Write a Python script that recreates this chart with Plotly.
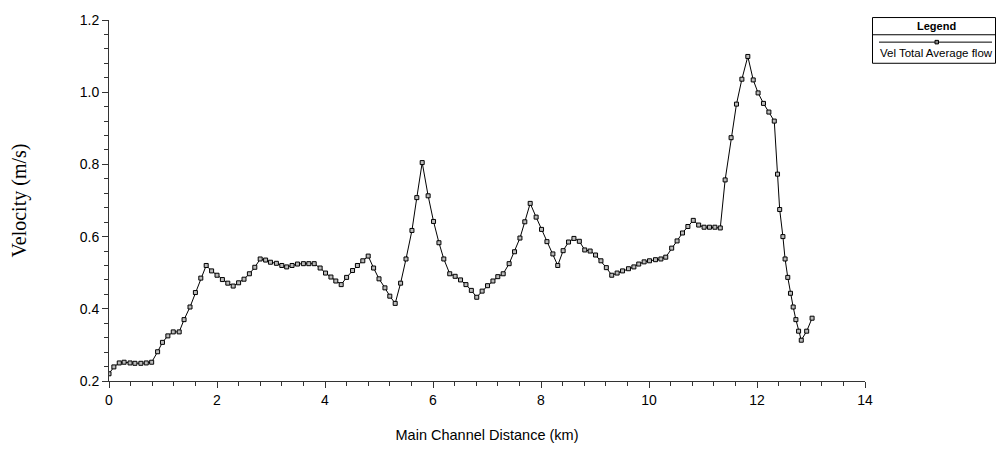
import plotly.graph_objects as go

distance_km = [0.00, 0.09, 0.19, 0.28, 0.39, 0.48, 0.59, 0.69, 0.79, 0.90, 0.99, 1.09, 1.19, 1.30,
               1.39, 1.50, 1.60, 1.70, 1.80, 1.90, 2.00, 2.10, 2.20, 2.30, 2.40, 2.50, 2.60, 2.70,
               2.80, 2.90, 2.99, 3.10, 3.20, 3.29, 3.39, 3.49, 3.60, 3.70, 3.80, 3.91, 4.01, 4.11,
               4.20, 4.30, 4.40, 4.51, 4.60, 4.70, 4.80, 4.90, 5.00, 5.11, 5.20, 5.30, 5.40, 5.50,
               5.61, 5.70, 5.80, 5.91, 6.01, 6.11, 6.20, 6.31, 6.41, 6.51, 6.61, 6.71, 6.81, 6.91,
               7.01, 7.11, 7.20, 7.30, 7.41, 7.51, 7.61, 7.70, 7.80, 7.91, 8.01, 8.11, 8.22, 8.31,
               8.41, 8.51, 8.61, 8.71, 8.81, 8.91, 9.01, 9.11, 9.21, 9.31, 9.41, 9.51, 9.62, 9.72,
               9.81, 9.91, 10.01, 10.12, 10.22, 10.31, 10.42, 10.52, 10.62, 10.72, 10.82, 10.92,
               11.02, 11.12, 11.22, 11.32, 11.41, 11.52, 11.62, 11.72, 11.83, 11.93, 12.02, 12.12,
               12.22, 12.32, 12.38, 12.42, 12.48, 12.52, 12.57, 12.62, 12.67, 12.72, 12.77, 12.82,
               12.92, 13.02]

velocity = [0.220, 0.239, 0.250, 0.252, 0.250, 0.249, 0.249, 0.250, 0.252, 0.281, 0.307, 0.325, 0.336, 0.336,
            0.370, 0.405, 0.445, 0.485, 0.520, 0.505, 0.493, 0.481, 0.471, 0.463, 0.472, 0.482, 0.497, 0.515,
            0.538, 0.535, 0.529, 0.526, 0.520, 0.516, 0.520, 0.524, 0.525, 0.525, 0.525, 0.513, 0.499, 0.488,
            0.477, 0.467, 0.487, 0.506, 0.520, 0.533, 0.546, 0.513, 0.483, 0.458, 0.435, 0.415, 0.471, 0.538,
            0.617, 0.708, 0.805, 0.713, 0.642, 0.583, 0.538, 0.497, 0.490, 0.480, 0.467, 0.451, 0.432, 0.449,
            0.464, 0.477, 0.489, 0.497, 0.525, 0.558, 0.596, 0.641, 0.692, 0.654, 0.620, 0.586, 0.552, 0.520,
            0.561, 0.585, 0.595, 0.587, 0.563, 0.560, 0.549, 0.533, 0.514, 0.493, 0.499, 0.505, 0.511, 0.516,
            0.524, 0.530, 0.533, 0.536, 0.538, 0.543, 0.568, 0.588, 0.610, 0.628, 0.645, 0.632,
            0.626, 0.626, 0.626, 0.624, 0.757, 0.874, 0.967, 1.036, 1.099, 1.034, 0.998, 0.969,
            0.945, 0.920, 0.773, 0.675, 0.600, 0.538, 0.487, 0.443, 0.405, 0.370, 0.338, 0.313,
            0.338, 0.374]

series_name = "Vel Total Average flow"
legend_title = "Legend"
x_title = "Main Channel Distance (km)"
y_title = "Velocity (m/s)"

W, H = 996, 453
L, R, T, B = 109, 131, 16.5, 69.5
PW, PH = W - L - R, H - T - B


def px(x):
    return (x - L) / PW


def py(y):
    return (H - B - y) / PH


fig = go.Figure()
fig.add_trace(go.Scatter(
    x=distance_km, y=velocity, mode="lines+markers", name=series_name,
    line=dict(color="black", width=1),
    marker=dict(symbol="square", size=4, color="#bbbbbb", line=dict(width=1, color="black")),
    showlegend=False,
))

axis_font = dict(family="Liberation Sans, Arial", size=14, color="black")

fig.update_xaxes(
    range=[0, 14], dtick=2, tick0=0, ticks="outside", ticklen=6, tickcolor="#333",
    showline=True, linecolor="#333", linewidth=1, showgrid=False, zeroline=False,
    tickfont=axis_font,
    minor=dict(dtick=0.4, ticks="outside", ticklen=4, tickcolor="#333", showgrid=False),
    title=dict(text=x_title, font=dict(family="Liberation Sans, Arial", size=14.5, color="black"), standoff=23),
)
fig.update_yaxes(
    range=[0.2, 1.2], dtick=0.2, tick0=0.2, tickformat=".1f", ticks="outside", ticklen=6, tickcolor="#333",
    showline=True, linecolor="#333", linewidth=1, showgrid=False, zeroline=False,
    tickfont=axis_font,
    minor=dict(dtick=0.04, ticks="outside", ticklen=4, tickcolor="#333", showgrid=False),
    title=dict(text=y_title, font=dict(family="Liberation Serif, Times New Roman", size=20, color="black"), standoff=47),
)

# Legend box drawn manually
shapes = [
    dict(type="rect", xref="paper", yref="paper", x0=px(872.5), x1=px(995.5), y0=py(60.5), y1=py(14),
         line=dict(color="black", width=1), fillcolor="white"),
    dict(type="line", xref="paper", yref="paper", x0=px(872.5), x1=px(995.5), y0=py(31.5), y1=py(31.5),
         line=dict(color="black", width=1)),
    dict(type="line", xref="paper", yref="paper", x0=px(879), x1=px(992), y0=py(39), y1=py(39),
         line=dict(color="black", width=1)),
    dict(type="rect", xref="paper", yref="paper", x0=px(935), x1=px(938.5), y0=py(40.8), y1=py(37.2),
         line=dict(color="black", width=1), fillcolor="#888"),
]
annotations = [
    dict(text="<b>" + legend_title + "</b>", xref="paper", yref="paper", x=px(936.5), y=py(22.7),
         showarrow=False, xanchor="center", yanchor="middle",
         font=dict(family="Liberation Sans, Arial", size=11, color="black")),
    dict(text=series_name, xref="paper", yref="paper", x=px(936), y=py(50),
         showarrow=False, xanchor="center", yanchor="middle",
         font=dict(family="Liberation Sans, Arial", size=11.5, color="black")),
]

fig.update_layout(
    width=W, height=H, margin=dict(l=L, r=R, t=T, b=B),
    paper_bgcolor="white", plot_bgcolor="white",
    shapes=shapes, annotations=annotations, showlegend=False,
)

fig.write_html("out.html")
